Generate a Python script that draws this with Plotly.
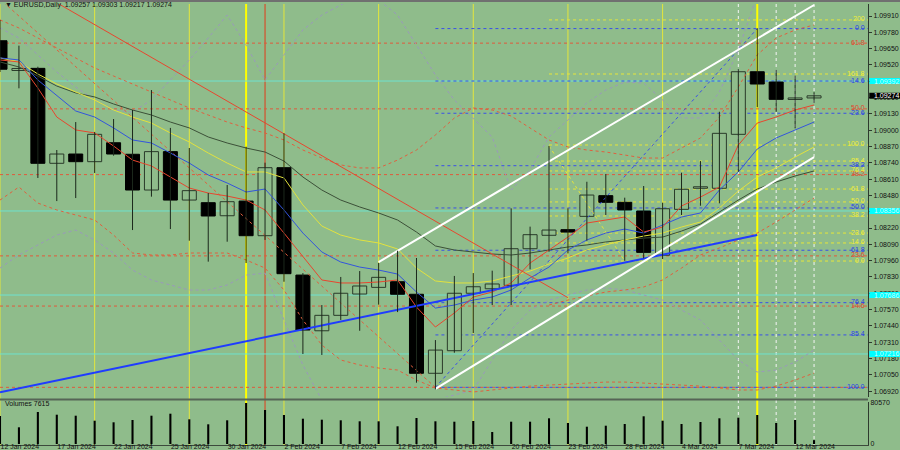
import plotly.graph_objects as go

# ---------------- data ----------------
bars = list(range(44))
tick_idx = [0, 3, 6, 9, 12, 15, 18, 21, 24, 27, 30, 33, 36, 39, 42]
tick_labels = ["12 Jan 2024", "17 Jan 2024", "22 Jan 2024", "25 Jan 2024", "30 Jan 2024",
               "2 Feb 2024", "7 Feb 2024", "12 Feb 2024", "15 Feb 2024", "20 Feb 2024",
               "23 Feb 2024", "28 Feb 2024", "4 Mar 2024", "7 Mar 2024", "12 Mar 2024"]

open_ = [1.09713, 1.09476, 1.09493, 1.08736, 1.08810, 1.08749, 1.08900, 1.08808, 1.08523, 1.08829,
         1.08443, 1.08422, 1.08318, 1.08435, 1.08159, 1.08701, 1.07845, 1.07401, 1.07524, 1.07694,
         1.07747, 1.07792, 1.07692, 1.07062, 1.07242, 1.07700, 1.07736, 1.07763, 1.08055, 1.08162,
         1.08207, 1.08313, 1.08478, 1.08425, 1.08356, 1.08003, 1.08369, 1.08537, 1.08537, 1.08967,
         1.09466, 1.09384, 1.09245, 1.09257]
high = [1.09879, 1.09674, 1.09506, 1.08842, 1.09065, 1.08986, 1.09089, 1.09161, 1.09320, 1.09018,
        1.08858, 1.08499, 1.08563, 1.08868, 1.08741, 1.08975, 1.07861, 1.07606, 1.07830, 1.07877,
        1.07941, 1.08039, 1.07981, 1.07327, 1.07838, 1.07861, 1.07880, 1.08377, 1.08231, 1.08874,
        1.08377, 1.08589, 1.08651, 1.08462, 1.08555, 1.08422, 1.08661, 1.08754, 1.09147, 1.09486,
        1.09812, 1.09480, 1.09434, 1.09303]
low = [1.09464, 1.09334, 1.08619, 1.08435, 1.08459, 1.08659, 1.08797, 1.08204, 1.08470, 1.08212,
       1.08119, 1.07952, 1.08111, 1.07941, 1.08125, 1.07792, 1.07216, 1.07208, 1.07487, 1.07401,
       1.07609, 1.07550, 1.06987, 1.06934, 1.07226, 1.07383, 1.07606, 1.07606, 1.07891, 1.08031,
       1.08018, 1.08119, 1.08324, 1.07959, 1.07979, 1.07973, 1.08324, 1.08398, 1.08417, 1.08669,
       1.09183, 1.09147, 1.09015, 1.09217]
close = [1.09486, 1.09492, 1.08736, 1.08810, 1.08749, 1.08967, 1.08810, 1.08523, 1.08829, 1.08443,
         1.08518, 1.08316, 1.08430, 1.08159, 1.08701, 1.07856, 1.07407, 1.07524, 1.07700, 1.07758,
         1.07827, 1.07692, 1.07062, 1.07247, 1.07700, 1.07752, 1.07774, 1.08055, 1.08167, 1.08204,
         1.08188, 1.08483, 1.08425, 1.08364, 1.08026, 1.08374, 1.08529, 1.08549, 1.08975, 1.09466,
         1.09368, 1.09246, 1.09257, 1.09274]

volume = [55020, 32820, 62880, 57580, 55610, 45790, 42640, 47160, 55610, 59540,
          48540, 38710, 46570, 80570, 66810, 56990, 49710, 47750, 46570, 44610,
          44610, 34780, 51090, 44610, 43820, 45200, 23580, 43820, 43820, 50500,
          41270, 34000, 35960, 39300, 54430, 45790, 39300, 43230, 50500, 51680,
          56990, 41270, 47160, 7615]

ma_red = [1.09560, 1.09544, 1.09336, 1.09105, 1.09002, 1.08978, 1.08874, 1.08762, 1.08715, 1.08627,
          1.08539, 1.08499, 1.08475, 1.08443, 1.08364, 1.08180, 1.07989, 1.07806, 1.07782, 1.07782,
          1.07790, 1.07806, 1.07590, 1.07431, 1.07543, 1.07670, 1.07710, 1.07782, 1.07941, 1.08045,
          1.08148, 1.08260, 1.08284, 1.08308, 1.08188, 1.08228, 1.08396, 1.08467, 1.08547, 1.08882,
          1.09057, 1.09105, 1.09161, 1.09201]
ma_blue = [1.09576, 1.09560, 1.09400, 1.09273, 1.09153, 1.09105, 1.09018, 1.08922, 1.08898, 1.08818,
           1.08738, 1.08643, 1.08579, 1.08507, 1.08531, 1.08364, 1.08180, 1.08029, 1.07949, 1.07909,
           1.07885, 1.07853, 1.07710, 1.07582, 1.07606, 1.07646, 1.07670, 1.07726, 1.07822, 1.07909,
           1.08045, 1.08125, 1.08180, 1.08212, 1.08180, 1.08244, 1.08308, 1.08340, 1.08523, 1.08667,
           1.08850, 1.08938, 1.09002, 1.09065]
ma_yellow = [1.09576, 1.09544, 1.09448, 1.09368, 1.09305, 1.09241, 1.09161, 1.09105, 1.09057, 1.08978,
             1.08906, 1.08818, 1.08738, 1.08667, 1.08667, 1.08619, 1.08404, 1.08236, 1.08164, 1.08125,
             1.08101, 1.08053, 1.07901, 1.07798, 1.07782, 1.07782, 1.07798, 1.07838, 1.07877, 1.07933,
             1.07981, 1.08045, 1.08085, 1.08125, 1.08156, 1.08180, 1.08228, 1.08268, 1.08380, 1.08515,
             1.08627, 1.08699, 1.08786, 1.08866]
ma_dark = [1.09544, 1.09504, 1.09432, 1.09352, 1.09297, 1.09265, 1.09209, 1.09161, 1.09121, 1.09065,
           1.09018, 1.08946, 1.08898, 1.08858, 1.08826, 1.08754, 1.08627, 1.08523, 1.08443, 1.08388,
           1.08340, 1.08284, 1.08188, 1.08077, 1.08045, 1.08029, 1.08013, 1.08005, 1.08021, 1.08045,
           1.08069, 1.08085, 1.08109, 1.08125, 1.08140, 1.08148, 1.08196, 1.08252, 1.08348, 1.08443,
           1.08531, 1.08587, 1.08635, 1.08675]
band_red_up = [1.09879, 1.09815, 1.09735, 1.09655, 1.09576, 1.09496, 1.09432, 1.09368, 1.09305, 1.09241,
               1.09177, 1.09121, 1.09065, 1.09018, 1.08978, 1.08922, 1.08842, 1.08778, 1.08723, 1.08699,
               1.08699, 1.08762, 1.08842, 1.08962, 1.09097, 1.09177, 1.09161, 1.09113, 1.09018, 1.08922,
               1.08866, 1.08842, 1.08826, 1.08802, 1.08778, 1.08778, 1.08858, 1.08938, 1.09105, 1.09344,
               1.09600, 1.09735, 1.09799, 1.09839]
band_red_low = [1.08443, 1.08547, 1.08419, 1.08364, 1.08324, 1.08284, 1.08164, 1.08021, 1.08005, 1.08005,
                1.08021, 1.08021, 1.08021, 1.07965, 1.07901, 1.07726, 1.07487, 1.07287, 1.07168, 1.07128,
                1.07104, 1.07088, 1.07008, 1.06945, 1.06929, 1.06913, 1.06929, 1.06945, 1.06960, 1.06968,
                1.06976, 1.06984, 1.06992, 1.06992, 1.06984, 1.06976, 1.06968, 1.06960, 1.06945, 1.06929,
                1.06929, 1.06960, 1.07008, 1.07064]
band_red_low2_bars = list(range(29, 44))
band_red_low2 = [1.07606, 1.07646, 1.07678, 1.07710, 1.07726, 1.07750, 1.07806, 1.07901, 1.08005, 1.08061,
                 1.08125, 1.08180, 1.08268, 1.08364, 1.08459]
band_gray_up = [1.09815, 1.09735, 1.09600, 1.09464, 1.09344, 1.09241, 1.09161, 1.09145, 1.09241, 1.09400,
                1.09560, 1.09735, 1.09918, 1.09679, 1.09400, 1.09600, 1.09799, 1.09918, 1.09998, 1.10078,
                1.10038, 1.09918, 1.09679, 1.09440, 1.09241, 1.09097, 1.08946, 1.08523, 1.08683, 1.08946,
                1.09081, 1.09217, 1.09320, 1.09384, 1.09376, 1.09241, 1.09097, 1.09097, 1.09305, 1.09639,
                1.10078, 1.10357, 1.10516, 1.10596]
band_gray_low = [1.07901, 1.08005, 1.08085, 1.08164, 1.08204, 1.08125, 1.08021, 1.07885, 1.07806, 1.07766,
                 1.07726, 1.07726, 1.07766, 1.07845, 1.07861, 1.07487, 1.07128, 1.06849, 1.06689, 1.06610,
                 1.06610, 1.06689, 1.06769, 1.06849, 1.06889, 1.06929, 1.07168, 1.07407, 1.07566, 1.07646,
                 1.07686, 1.07726, 1.07742, 1.07726, 1.07686, 1.07646, 1.07566, 1.07487, 1.07327, 1.07168,
                 1.07072, 1.07088, 1.07152, 1.07247]

# Fibonacci level sets
red_fib_labels = ["61.8", "50.0", "38.2", "23.6", "14.6", ""]
red_fib_prices = [1.09694, 1.09170, 1.08646, 1.07998, 1.07598, 1.06950]
red_fib_start = 0
blue_fib_labels = ["0.0", "14.6", "23.6", "38.2", "50.0", "61.8", "76.4", "85.4", "100.0"]
blue_fib_prices = [1.09810, 1.09392, 1.09135, 1.08717, 1.08380, 1.08043, 1.07625, 1.07368, 1.06950]
blue_fib_start = 23
yellow_fib_labels = ["200", "161.8", "100.0", "85.4", "76.4", "61.8", "50.0", "38.2", "23.6", "14.6", "0.0"]
yellow_fib_prices = [1.09879, 1.09448, 1.08882, 1.08754, 1.08675, 1.08531, 1.08428, 1.08316, 1.08180, 1.08101, 1.07957]
yellow_fib_start = 29

cyan_levels = [1.09392, 1.08356, 1.07686, 1.07216]
last_price = 1.09274

# trend lines: (bars, prices)
red_trend = ([2, 30], [1.10103, 1.07665])
blue_trend = ([0, 40], [1.06910, 1.08164])
white_upper = ([20, 43], [1.07949, 1.09998])
white_lower = ([23, 43], [1.06937, 1.08786])
red_fib_diag = ([-10, 23], [1.11390, 1.06950])
blue_fib_diag = ([23, 40], [1.06950, 1.09810])
yellow_fib_diag = ([29, 33], [1.08874, 1.07959])

vlines_yellow = [0, 5, 10, 15, 20, 25, 30, 35]
vlines_bright = [13, 40]
vlines_red = [14]
vlines_white = [39, 41, 42, 43]

price_ticks = [round(1.06920 + 0.0013 * k, 5) for k in range(24)]
vol_max = 80570

# ---------------- styling ----------------
BG = "#8fbc8b"
XMAX = 45.85
FONT = "Liberation Sans"
BODY_W = 0.74

fig = go.Figure()

def line(x, y, color, width=1, dash="solid"):
    fig.add_trace(go.Scatter(x=x, y=y, mode="lines", line=dict(color=color, width=width, dash=dash),
                             hoverinfo="skip", xaxis="x", yaxis="y"))

# bands and moving averages
line(bars, band_gray_up, "#9a98bc", 1, "dot")
line(bars, band_gray_low, "#9a98bc", 1, "dot")
line(bars, band_red_up, "#e0603e", 1, "dot")
line(bars, band_red_low, "#e0603e", 1, "dot")
line(band_red_low2_bars, band_red_low2, "#e0603e", 1, "dot")
line(*red_fib_diag, "#e0603e", 1, "dot")
line(*blue_fib_diag, "#3a50e8", 1, "dot")
line(*yellow_fib_diag, "#e6e63a", 1, "dot")
line(bars, ma_dark, "#3c5038", 1)
line(bars, ma_yellow, "#e2e23e", 1)
line(bars, ma_blue, "#3355dd", 1)
line(bars, ma_red, "#e8462e", 1)
line(*red_trend, "#e8462e", 1)
line(*blue_trend, "#1f3cff", 2)
line(*white_upper, "#ffffff", 2)
line(*white_lower, "#ffffff", 2)

# candle wicks
wx, wy = [], []
for b, h, l in zip(bars, high, low):
    wx += [b, b, None]
    wy += [l, h, None]
fig.add_trace(go.Scatter(x=wx, y=wy, mode="lines", line=dict(color="#1c281c", width=1),
                         hoverinfo="skip", xaxis="x", yaxis="y"))

# candle bodies
body_base = [min(o, c) for o, c in zip(open_, close)]
body_h = [max(abs(c - o), 0.00003) for o, c in zip(open_, close)]
body_fill = [BG if c >= o else "#000000" for o, c in zip(open_, close)]
body_line = ["#2a3a2a" if c >= o else "#000000" for o, c in zip(open_, close)]
fig.add_trace(go.Bar(x=bars, y=body_h, base=body_base, width=BODY_W,
                     marker=dict(color=body_fill, line=dict(color=body_line, width=1)),
                     hoverinfo="skip", xaxis="x", yaxis="y"))

fig.add_trace(go.Bar(x=bars, y=volume, width=0.11, marker=dict(color="#000000", line=dict(width=0)),
                     hoverinfo="skip", xaxis="x", yaxis="y2"))

shapes = []
annotations = []

def hline(price, start, color, dash="dot", width=1):
    shapes.append(dict(type="line", xref="x", yref="y", x0=start, x1=XMAX, y0=price, y1=price,
                       line=dict(color=color, width=width, dash=dash), layer="below"))

for p in cyan_levels:
    hline(p, 0, "#6fe3cf", "solid", 1)
for lab, p in zip(red_fib_labels, red_fib_prices):
    hline(p, red_fib_start, "#e05a3c")
for lab, p in zip(blue_fib_labels, blue_fib_prices):
    hline(p, blue_fib_start, "#3a50e8")
for lab, p in zip(yellow_fib_labels, yellow_fib_prices):
    hline(p, yellow_fib_start, "#e6e63a")

def vline(b, color, width=1, dash="solid"):
    shapes.append(dict(type="line", xref="x", yref="paper", x0=b, x1=b, y0=0, y1=1,
                       line=dict(color=color, width=width, dash=dash), layer="below"))

for b in vlines_yellow:
    vline(b, "#e4e63c", 1)
for b in vlines_bright:
    vline(b, "#ffff00", 2)
for b in vlines_red:
    vline(b, "#e03a1a", 1)
for b in vlines_white:
    vline(b, "#f4f4f4", 1, "dot")

# frame pieces
shapes.append(dict(type="rect", xref="paper", yref="paper", x0=0, x1=1.04, y0=1.0045, y1=1.012,
                   fillcolor="#707070", line=dict(width=0), layer="above"))
shapes.append(dict(type="rect", xref="paper", yref="paper", x0=0, x1=1, y0=0.1009, y1=0.1054,
                   fillcolor="#566456", line=dict(width=0), layer="above"))

# fib labels
def fib_labels(labels, prices, color):
    for lab, p in zip(labels, prices):
        if lab:
            annotations.append(dict(xref="paper", yref="y", x=1, y=p, xshift=-1, xanchor="right",
                                    yanchor="middle", yshift=1, text=lab, showarrow=False,
                                    font=dict(family=FONT, size=7, color=color)))

fib_labels(red_fib_labels, red_fib_prices, "#e2472e")
fib_labels(yellow_fib_labels, yellow_fib_prices, "#eeee3a")
fib_labels(blue_fib_labels, blue_fib_prices, "#2c44e6")

# axis price boxes
def price_box(p, fill, txtcolor):
    shapes.append(dict(type="rect", xref="paper", yref="y", x0=1.0015, x1=1.04, y0=p - 0.00024, y1=p + 0.00024,
                       fillcolor=fill, line=dict(width=0), layer="above"))
    annotations.append(dict(xref="paper", yref="y", x=1.0045, y=p, xanchor="left", yanchor="middle",
                            text=f"{p:.5f}", showarrow=False,
                            font=dict(family=FONT, size=7, color=txtcolor)))

for p in cyan_levels:
    price_box(p, "#00ffff", "#c8ffff")
price_box(last_price, "#000000", "#ffffff")

annotations.append(dict(xref="paper", yref="paper", x=0.003, y=0.9975, xanchor="left", yanchor="middle",
                        text="▼ EURUSD,Daily  1.09257 1.09303 1.09217 1.09274", showarrow=False,
                        font=dict(family=FONT, size=7, color="#111111")))
annotations.append(dict(xref="paper", yref="paper", x=0.003, y=0.094, xanchor="left", yanchor="middle",
                        text=f"Volumes {volume[-1]}", showarrow=False,
                        font=dict(family=FONT, size=7, color="#111111")))

fig.update_layout(
    template="none",
    width=900, height=450,
    margin=dict(l=0, r=32, t=4, b=5),
    paper_bgcolor=BG, plot_bgcolor=BG,
    showlegend=False,
    barmode="overlay",
    font=dict(family=FONT, size=7, color="#111111"),
    shapes=shapes, annotations=annotations,
    hovermode=False,
    xaxis=dict(range=[0, XMAX], tickvals=tick_idx, ticktext=tick_labels, anchor="y2",
               ticklabelposition="outside right", ticklabelstandoff=-5,
               showgrid=False, zeroline=False, showline=True, linecolor="#3c4a3c", linewidth=1,
               ticks="", tickfont=dict(family=FONT, size=7, color="#111111"), automargin=False),
    yaxis=dict(domain=[0.10884, 1.0], range=[1.06873, 1.10006], side="right", anchor="x",
               tickvals=price_ticks, ticktext=[f"{v:.5f}" for v in price_ticks],
               showgrid=False, zeroline=False, showline=True, linecolor="#2e3a2e", linewidth=1,
               ticks="outside", ticklen=3, tickcolor="#2e3a2e",
               tickfont=dict(family=FONT, size=7, color="#111111"), automargin=False),
    yaxis2=dict(domain=[0.0, 0.09751], range=[-1965, 82535], side="right", anchor="x",
                tickvals=[0, vol_max], ticktext=["0", str(vol_max)],
                showgrid=False, zeroline=False, showline=True, linecolor="#2e3a2e", linewidth=1,
                ticks="", tickfont=dict(family=FONT, size=7, color="#111111"), automargin=False),
)

fig.write_html("out.html", config={"displayModeBar": False, "staticPlot": True},
               post_script="document.body.style.margin='0px';document.body.style.overflow='hidden';")
